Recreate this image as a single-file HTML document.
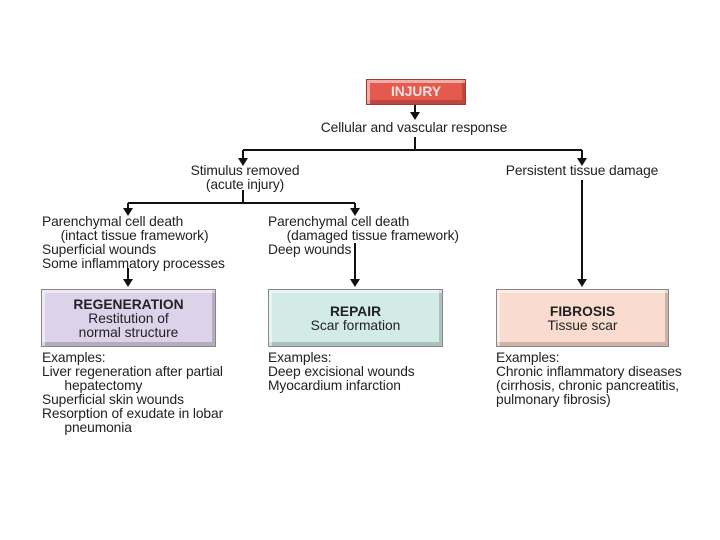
<!DOCTYPE html>
<html><head><style>
body{margin:0;width:720px;height:540px;background:#fff;position:relative;overflow:hidden;font-family:"Liberation Sans",sans-serif;color:#222}
.t{position:absolute;font-size:13.8px;line-height:14px;white-space:nowrap;letter-spacing:-0.1px}
.c{text-align:center;transform:translateX(-50%)}
.box{position:absolute;box-sizing:border-box;text-align:center;font-size:13.8px;line-height:14px;border:1px solid #888;box-shadow:inset 3px 3px 0 rgba(255,255,255,.5),inset -3px -4px 0 rgba(0,0,0,.18)}
</style></head><body>
<svg width="720" height="540" style="position:absolute;left:0;top:0">
<g stroke="#111" stroke-width="2" fill="none">
<path d="M415 105V114M415 137V150M243 150H582M243 150V160M582 150V160M243 190V203M128 203H355M128 203V210M355 203V210M128 268V280M355 243V280M582 180V280"/>
</g>
<g fill="#111">
<path d="M410 112h10l-5 8z"/><path d="M238 158h10l-5 8z"/><path d="M577 158h10l-5 8z"/>
<path d="M123 208h10l-5 8z"/><path d="M350 208h10l-5 8z"/>
<path d="M123 279h10l-5 8z"/><path d="M350 279h10l-5 8z"/><path d="M577 279h10l-5 8z"/>
</g>
</svg>
<div class="box" style="left:366px;top:79px;width:100px;height:26px;background:#e45a4f;color:#fbe0dc;font-weight:bold;padding-top:5px;border-color:#a33">INJURY</div>
<div class="t c" style="left:414px;top:121px">Cellular and vascular response</div>
<div class="t c" style="left:245px;top:164px">Stimulus removed<br>(acute injury)</div>
<div class="t c" style="left:582px;top:164px">Persistent tissue damage</div>
<div class="t" style="left:42px;top:215px">Parenchymal cell death<br>&nbsp;&nbsp;&nbsp;&nbsp;&nbsp;(intact tissue framework)<br>Superficial wounds<br>Some inflammatory processes</div>
<div class="t" style="left:268px;top:215px">Parenchymal cell death<br>&nbsp;&nbsp;&nbsp;&nbsp;&nbsp;(damaged tissue framework)<br>Deep wounds</div>
<div class="box" style="left:41px;top:289px;width:175px;height:58px;background:#dcd3ea;padding-top:8px"><b>REGENERATION</b><br>Restitution of<br>normal structure</div>
<div class="box" style="left:268px;top:289px;width:175px;height:58px;background:#d2ebe7;padding-top:15px"><b>REPAIR</b><br>Scar formation</div>
<div class="box" style="left:496px;top:289px;width:173px;height:58px;background:#f9dccf;padding-top:15px"><b>FIBROSIS</b><br>Tissue scar</div>
<div class="t" style="left:42px;top:351px">Examples:<br>Liver regeneration after partial<br>&nbsp;&nbsp;&nbsp;&nbsp;&nbsp;&nbsp;hepatectomy<br>Superficial skin wounds<br>Resorption of exudate in lobar<br>&nbsp;&nbsp;&nbsp;&nbsp;&nbsp;&nbsp;pneumonia</div>
<div class="t" style="left:268px;top:351px">Examples:<br>Deep excisional wounds<br>Myocardium infarction</div>
<div class="t" style="left:496px;top:351px">Examples:<br>Chronic inflammatory diseases<br>(cirrhosis, chronic pancreatitis,<br>pulmonary fibrosis)</div>
</body></html>
